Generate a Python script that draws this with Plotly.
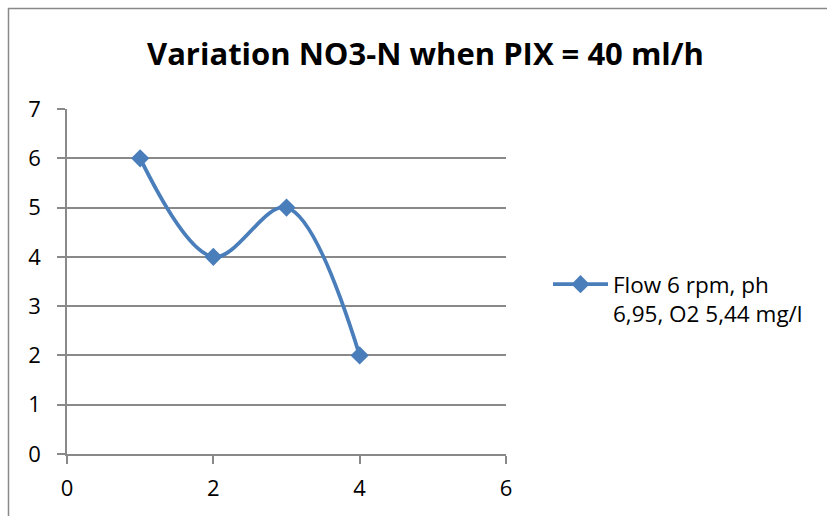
import plotly.graph_objects as go

x_vals = [1, 2, 3, 4]
y_vals = [6, 4, 5, 2]
series_name = "Flow 6 rpm, ph<br>6,95, O2 5,44 mg/l"
title_text = "Variation NO3-N when PIX = 40 ml/h"
x_ticks = [0, 2, 4, 6]
y_ticks = [0, 1, 2, 3, 4, 5, 6, 7]

W, H = 827, 516
L, R, T, B = 67, 321, 109, 62
pw, ph = W - L - R, H - T - B

def px_x(p):
    return (p - L) / pw

def px_y(p):
    return (H - B - p) / ph

color = "#4A7EBB"
axis_gray = "#898989"
fig = go.Figure()
fig.add_trace(go.Scatter(
    x=x_vals, y=y_vals, mode="lines+markers", name=series_name,
    line=dict(color=color, width=3.8, shape="spline", smoothing=1.0),
    marker=dict(symbol="diamond", size=14, color=color),
))

fig.update_layout(
    width=W, height=H,
    margin=dict(l=L, r=R, t=T, b=B),
    paper_bgcolor="white", plot_bgcolor="white",
    font=dict(family="Open Sans, sans-serif", color="black"),
    title=dict(text="<b>" + title_text + "</b>", x=425.5 / W, xref="container", xanchor="center",
               y=1 - 54 / H, yref="container", yanchor="middle",
               font=dict(size=31, family="Open Sans", color="black")),
    xaxis=dict(range=[0, 6], tickvals=x_ticks, showgrid=False, zeroline=False,
               showline=True, linecolor=axis_gray, linewidth=1.5,
               ticks="outside", ticklen=8, tickcolor=axis_gray, tickwidth=1.5,
               ticklabelstandoff=6,
               tickfont=dict(size=22, color="black")),
    yaxis=dict(range=[0, 7], tickvals=y_ticks, showgrid=True, gridcolor=axis_gray, gridwidth=1.5,
               zeroline=False, showline=True, linecolor=axis_gray, linewidth=1.5,
               ticks="outside", ticklen=8, tickcolor=axis_gray, tickwidth=1.5,
               ticklabelstandoff=12,
               tickfont=dict(size=22, color="black")),
    showlegend=True,
    legend=dict(x=px_x(548), y=px_y(263), xanchor="left", yanchor="top",
                font=dict(size=22.5, color="black"), valign="top", itemwidth=55,
                bgcolor="rgba(0,0,0,0)"),
)

fig.add_shape(type="rect", xref="paper", yref="paper",
              x0=px_x(8.5), x1=px_x(840), y0=px_y(8.5), y1=px_y(530),
              line=dict(color=axis_gray, width=1.5), fillcolor="rgba(0,0,0,0)", layer="below")

fig.write_html("out.html", config={"displayModeBar": False},
               post_script="document.body.style.margin='0';document.body.style.overflow='hidden';")
